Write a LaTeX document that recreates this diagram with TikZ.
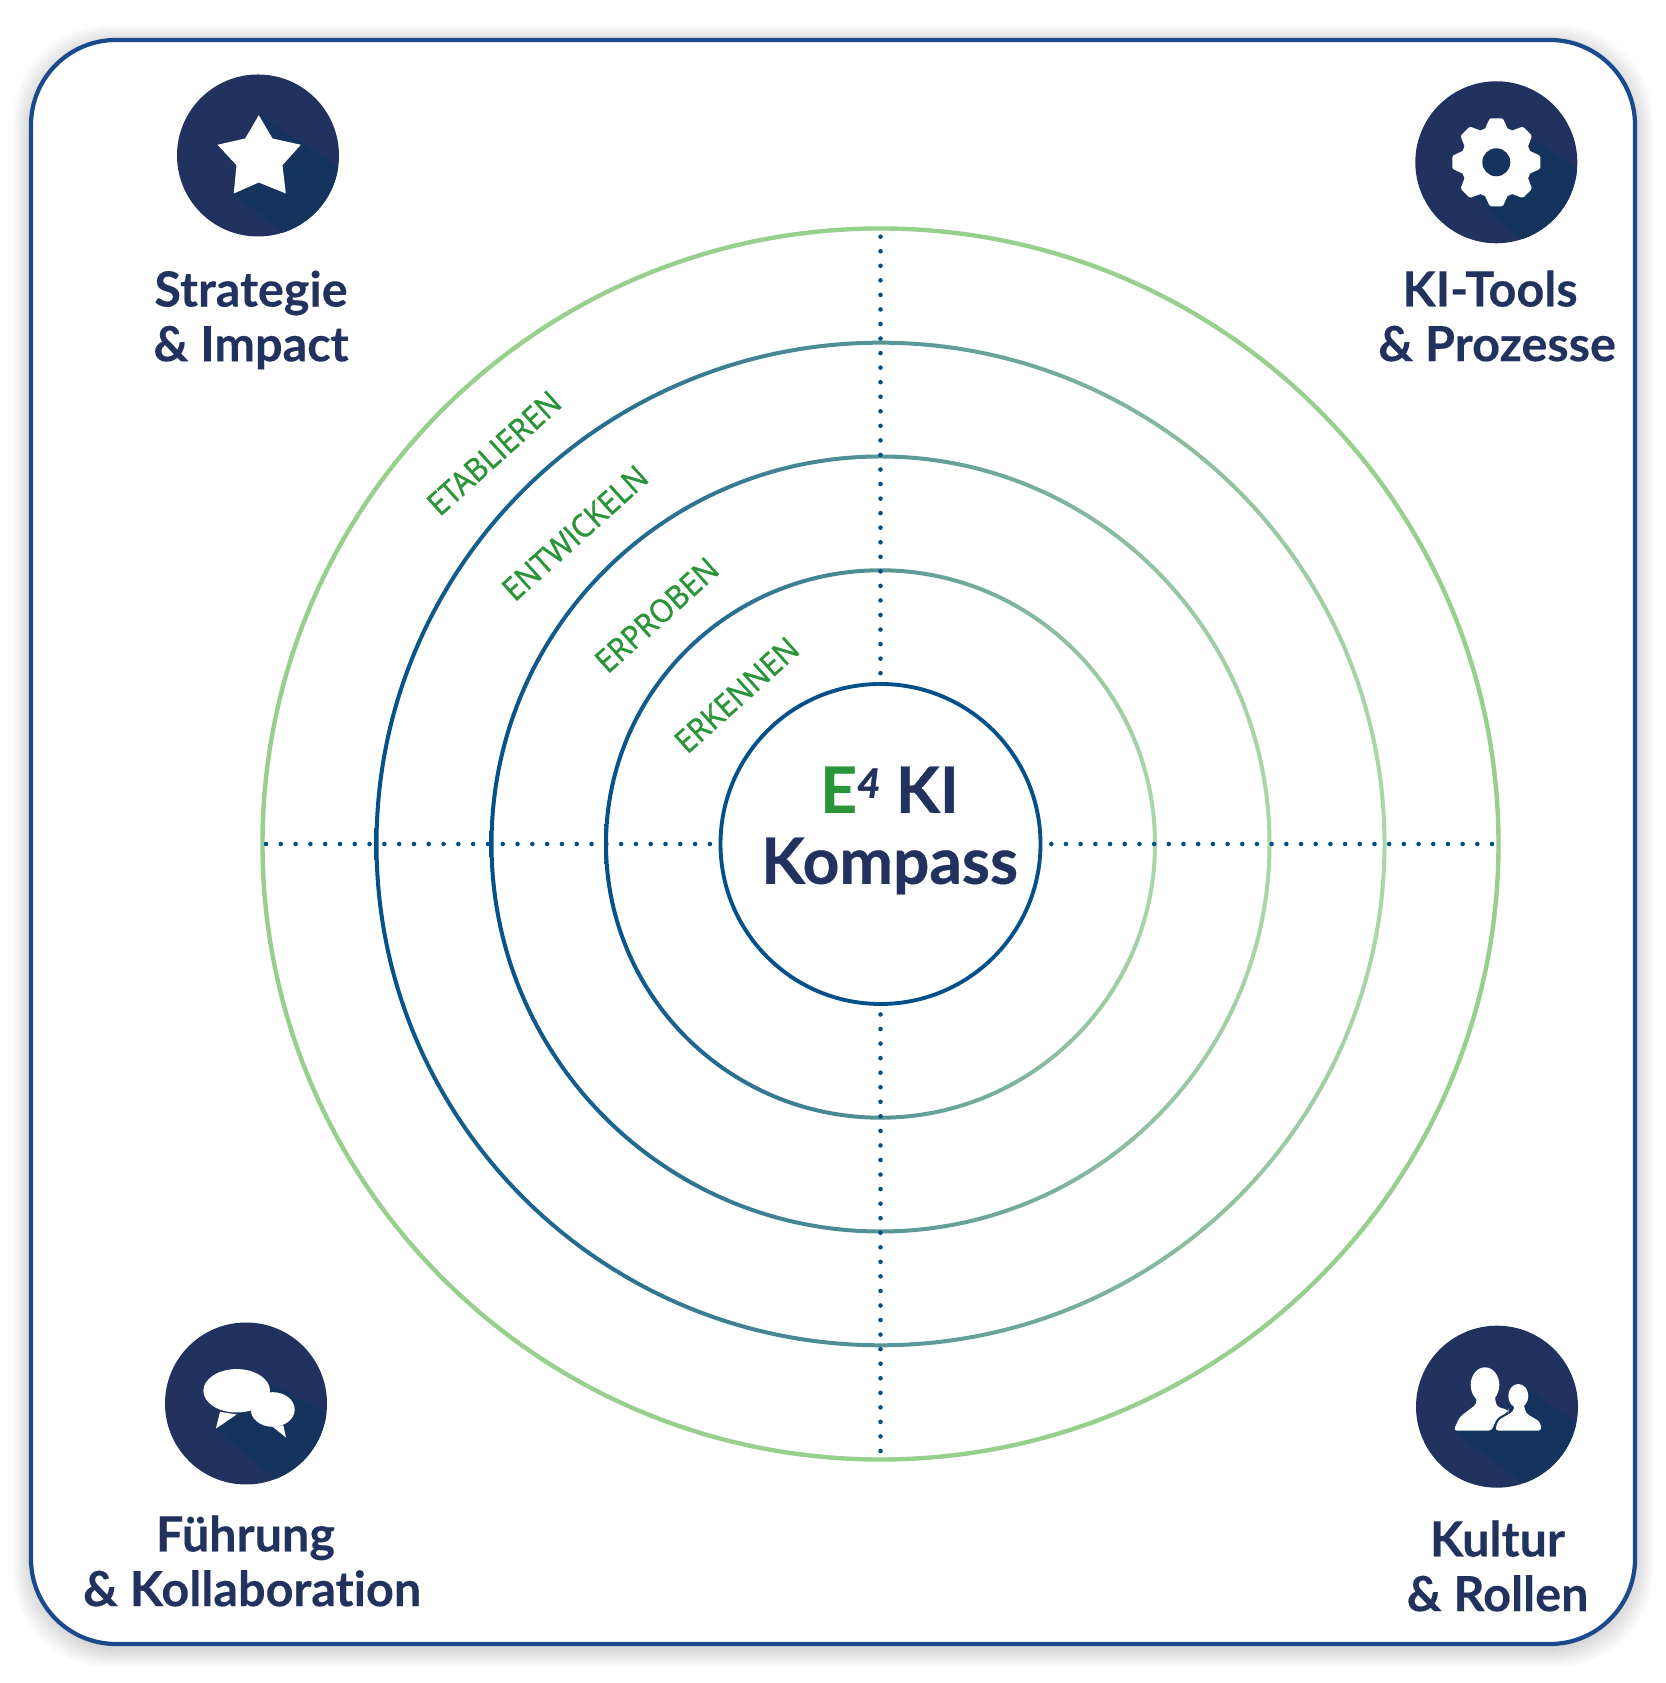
\documentclass[tikz,border=0pt]{standalone}
\usepackage{fontspec}
\setmainfont{Lato}[Ligatures=NoCommon,BoldFeatures={FakeBold=0.25}]
\newfontfamily\ringfont{Open Sans}[FakeBold=1.2,FakeStretch=0.93]
\newfontfamily\titlefont{Lato}[Ligatures=NoCommon,BoldFeatures={FakeBold=0.6},BoldItalicFeatures={FakeBold=1.2}]
\usetikzlibrary{calc}
\definecolor{kinavy}{HTML}{21325F}
\definecolor{kishade}{HTML}{14345E}
\definecolor{kiframe}{HTML}{1A4A8C}
\definecolor{kiblue}{HTML}{04508A}
\definecolor{kilight}{HTML}{A9D8A5}
\definecolor{kiouter}{HTML}{97CF8C}
\definecolor{kigreen}{HTML}{2A9439}
\definecolor{kidots}{HTML}{034E86}
\tikzset{
  ringlabel/.style={text=kigreen,font=\ringfont\fontsize{9.1}{11}\selectfont,rotate=42,inner sep=0pt},
  iconlabel/.style={text=kinavy,font=\bfseries\fontsize{13.8}{15.56}\selectfont,align=center,inner sep=0pt},
  axisdots/.style={kidots,line width=1.3pt,line cap=round,dash pattern=on 0pt off #1},
  ringshade/.style={even odd rule,left color=kiblue,right color=kilight},
}
\newcommand{\kicon}[4]{%
  \begin{scope}[shift={(#1,#2)}]
    \fill[kinavy] (0,0) circle (0.81);
    \begin{scope}
      \clip (0,0) circle (0.81);
      \fill[kishade] #3 -- cycle;
    \end{scope}
    #4
  \end{scope}
}
\begin{document}
\begin{tikzpicture}
  \useasboundingbox (0,0) rectangle (16.66,16.83);
  \fill[white] (0,0) rectangle (16.66,16.83);
  % ---------- frame ----------
  \foreach \i in {1,...,10}{
    \fill[black,opacity=0.016,rounded corners=0.95cm] (0.31-\i*0.018,0.34-\i*0.018) rectangle (16.35+\i*0.018,16.40+\i*0.018);}
  \draw[kiframe,fill=white,line width=1.2pt,rounded corners=0.85cm] (0.31,0.39) rectangle (16.35,16.43);
  % ---------- rings ----------
  \coordinate (hub) at (8.805,8.39);
  \foreach \rr/\ry in {2.745/2.737,3.89/3.875,5.04/5.013}{
    \shade[ringshade] (hub) ellipse ({\rr+0.02} and {\ry+0.02}) (hub) ellipse ({\rr-0.02} and {\ry-0.02});}
  \draw[kiouter,line width=1.25pt] (hub) ellipse (6.18 and 6.155);
  \node[circle,draw=kiblue,line width=1.1pt,minimum size=3.2cm,inner sep=0pt,outer sep=0.1cm] (core) at (hub) {};
  % ---------- axes ----------
  \coordinate (dotN) at (8.805,14.463);
  \coordinate (dotS) at (8.805,2.32);
  \coordinate (dotW) at (2.66,8.39);
  \coordinate (dotE) at (14.92,8.39);
  \draw[axisdots=4.14pt] (dotN) -- (core.north);
  \draw[axisdots=4.14pt] (dotS) -- (core.south);
  \draw[axisdots=4.21pt] (dotW) -- (core.west);
  \draw[axisdots=4.18pt] (dotE) -- (core.east);
  % ---------- ring labels ----------
  \node[ringlabel] (etablieren) at (4.94,12.30) {ETABLIEREN};
  \node[ringlabel] (entwickeln) at (5.75,11.50) {ENTWICKELN};
  \node[ringlabel] (erproben) at (6.567,10.68) {ERPROBEN};
  \node[ringlabel] (erkennen) at (7.367,9.88) {ERKENNEN};
  % ---------- centre ----------
  \node[text=kinavy,font=\titlefont\bfseries\fontsize{18.2}{20.2}\selectfont,align=center,inner sep=0pt] (title) at (8.895,8.525)
        {\textcolor{kigreen}{E}\raisebox{0.15cm}{\fontsize{11.5}{11.5}\selectfont\textit{4}} KI\\Kompass};
  % ---------- star ----------
  \kicon{2.58}{15.275}{(0.035,0.387) -- (0.852,-0.147) -- (1,-1) -- (0.235,-0.763) -- (-0.232,-0.387)}{
    \fill[white] (0.008,0.403) -- (0.145,0.17) -- (0.428,0.107) -- (0.245,-0.097) -- (0.278,-0.38) -- (0.008,-0.27)
       -- (-0.242,-0.38) -- (-0.215,-0.097) -- (-0.405,0.107) -- (-0.128,0.17) -- cycle;}
  \node[iconlabel] (strategie) at (2.51,13.63) {Strategie\\\& Impact};
  % ---------- gear ----------
  \kicon{14.963}{15.207}{(0.303,0.273) -- (0.803,-0.06) -- (1,-1) -- (0.237,-0.76) -- (-0.263,-0.327)}{
    \fill[white] (0,0) circle (0.355);
    \foreach \aa in {0,45,...,315}{
      \fill[white,rotate=\aa,rounded corners=0.4pt] (-0.125,0.31) -- (-0.065,0.44) -- (0.065,0.44) -- (0.125,0.31) -- cycle;}
    \fill[kishade] (0,0) circle (0.14);}
  \node[iconlabel] (tools) at (14.97,13.67) {KI-Tools\hspace*{0.14cm}\\\& Prozesse};
  % ---------- speech bubbles ----------
  \kicon{2.46}{2.795}{(0.24,0.2) -- (0.807,-0.1) -- (1,-1) -- (0.29,-0.75) -- (-0.30,-0.25)}{
    \fill[white] (-0.093,0.127) ellipse (0.333 and 0.217);
    \fill[white] (0.267,-0.06) ellipse (0.22 and 0.173);
    \fill[white] (-0.26,-0.083) -- (-0.30,-0.25) -- (-0.093,-0.11) -- cycle;
    \fill[white] (0.267,-0.233) -- (0.40,-0.34) -- (0.373,-0.217) -- cycle;}
  \node[iconlabel] (fuehrung) at (2.52,1.22) {Führung\hspace*{0.13cm}\\\& Kollaboration};
  % ---------- people ----------
  \kicon{14.97}{2.763}{(0.313,0.167) -- (0.797,-0.167) -- (1,-1) -- (0.28,-0.767) -- (-0.437,-0.24)}{
    \fill[white] (-0.12,0.217) ellipse (0.143 and 0.177);
    \fill[white] (0.213,0.107) ellipse (0.1 and 0.12);
    \fill[white,rounded corners=1pt] (-0.437,-0.24) -- (-0.37,-0.10) -- (-0.203,0.027) -- (-0.21,0.117) -- (-0.02,0.117)
       -- (-0.02,0.083) -- (-0.003,0) -- (0.113,-0.033) -- (0.113,-0.05) -- (-0.003,-0.117) -- (-0.053,-0.24) -- cycle;
    \fill[white,rounded corners=1pt] (-0.02,-0.24) -- (0.013,-0.133) -- (0.163,-0.05) -- (0.18,0.05) -- (0.27,0.05)
       -- (0.27,0) -- (0.29,-0.067) -- (0.43,-0.15) -- (0.447,-0.24) -- cycle;}
  \node[iconlabel] (kultur) at (14.975,1.17) {Kultur\\\& Rollen};
\end{tikzpicture}
\end{document}
